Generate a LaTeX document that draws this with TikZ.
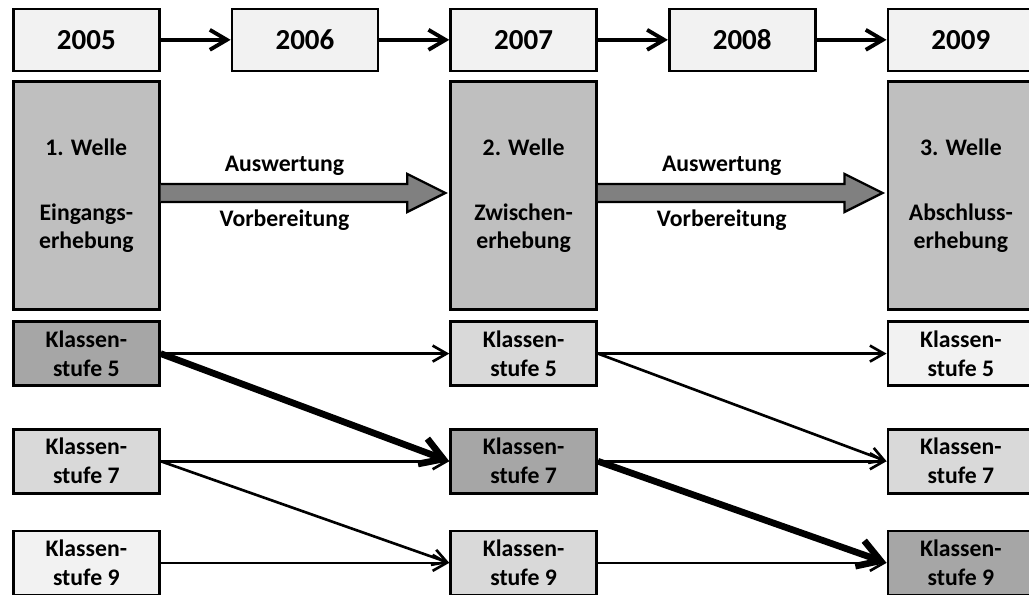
\documentclass[tikz,border=0pt]{standalone}
\usepackage{fontspec}
\setmainfont{Carlito}
\usepackage{tikz}
\usepackage{xcolor}
\usetikzlibrary{arrows.meta, positioning, calc}

\definecolor{hell}{HTML}{F2F2F2}
\definecolor{mittel}{HTML}{D9D9D9}
\definecolor{dunkel}{HTML}{A6A6A6}
\definecolor{wellegrau}{HTML}{BFBFBF}
\definecolor{pfeilgrau}{HTML}{808080}

\begin{document}
\begin{tikzpicture}[
    box/.style={rectangle, draw, line width=1.5pt, align=center, inner sep=0pt},
    year/.style={box, fill=hell, minimum width=2.92cm, minimum height=1.24cm, font=\fontsize{16.5}{19}\selectfont\bfseries},
    welle/.style={box, fill=wellegrau, minimum width=2.92cm, minimum height=4.56cm, font=\fontsize{13.5}{16}\selectfont\bfseries},
    stufe/.style={box, minimum width=2.92cm, minimum height=1.28cm, font=\fontsize{13.5}{16.5}\selectfont\bfseries},
    lbl/.style={font=\fontsize{13.5}{16}\selectfont\bfseries},
    jahr/.style={-{Straight Barb[length=3.4mm, width=4mm]}, line width=2.2pt},
    pfeil/.style={-{Straight Barb[length=2.8mm, width=3.2mm]}, line width=1.5pt},
    dick/.style={-{Straight Barb[length=4.4mm, width=5.4mm]}, line width=3.8pt},
    gross/.style={draw, line width=1.3pt, fill=pfeilgrau, line join=miter}
]
\useasboundingbox (0,0) rectangle (20.58,-11.88);
\clip (0,0) rectangle (20.58,-11.88);

\node[year, anchor=north west] (y2005) at (0.24,-0.15) {2005};
\node[year, right=1.4cm of y2005] (y2006) {2006};
\node[year, right=1.4cm of y2006] (y2007) {2007};
\node[year, right=1.4cm of y2007] (y2008) {2008};
\node[year, right=1.4cm of y2008] (y2009) {2009};

\node[welle, below=0.16cm of y2005] (w1) {1. Welle\\[21pt]Eingangs-\\erhebung};
\node[welle, below=0.16cm of y2007] (w2) {2. Welle\\[21pt]Zwischen-\\erhebung};
\node[welle, below=0.16cm of y2009] (w3) {3. Welle\\[21pt]Abschluss-\\erhebung};

\node[stufe, fill=dunkel, below=0.19cm of w1] (k15) {Klassen-\\stufe 5};
\node[stufe, fill=mittel, below=0.82cm of k15] (k17) {Klassen-\\stufe 7};
\node[stufe, fill=hell, below=0.7cm of k17] (k19) {Klassen-\\stufe 9};

\node[stufe, fill=mittel, below=0.19cm of w2] (k25) {Klassen-\\stufe 5};
\node[stufe, fill=dunkel, below=0.82cm of k25] (k27) {Klassen-\\stufe 7};
\node[stufe, fill=mittel, below=0.7cm of k27] (k29) {Klassen-\\stufe 9};

\node[stufe, fill=hell, below=0.19cm of w3] (k35) {Klassen-\\stufe 5};
\node[stufe, fill=mittel, below=0.82cm of k35] (k37) {Klassen-\\stufe 7};
\node[stufe, fill=dunkel, below=0.7cm of k37] (k39) {Klassen-\\stufe 9};

\draw[jahr] (y2005) -- (y2006);
\draw[jahr] (y2006) -- (y2007);
\draw[jahr] (y2007) -- (y2008);
\draw[jahr] (y2008) -- (y2009);

\draw[gross] ($(w1.east)+(0,0.23)$) -- ($(w2.west)+(-0.84,0.23)$) -- ($(w2.west)+(-0.84,0.43)$)
    -- ($(w2.west)+(-0.08,0.05)$) -- ($(w2.west)+(-0.84,-0.33)$) -- ($(w2.west)+(-0.84,-0.13)$)
    -- ($(w1.east)+(0,-0.13)$);
\draw[gross] ($(w2.east)+(0,0.23)$) -- ($(w3.west)+(-0.84,0.23)$) -- ($(w3.west)+(-0.84,0.43)$)
    -- ($(w3.west)+(-0.08,0.05)$) -- ($(w3.west)+(-0.84,-0.33)$) -- ($(w3.west)+(-0.84,-0.13)$)
    -- ($(w2.east)+(0,-0.13)$);

\node[lbl] (a1) at ($(w1.east)!0.5!(w2.west)+(-0.41,0.6)$) {Auswertung};
\node[lbl] (v1) at ($(w1.east)!0.5!(w2.west)+(-0.41,-0.5)$) {Vorbereitung};
\node[lbl] (a2) at ($(w2.east)!0.5!(w3.west)+(-0.41,0.6)$) {Auswertung};
\node[lbl] (v2) at ($(w2.east)!0.5!(w3.west)+(-0.41,-0.5)$) {Vorbereitung};

\draw[pfeil] (k15.east) -- (k25.west);
\draw[dick] (k15.east) -- (k27.west);
\draw[pfeil] (k17.east) -- (k27.west);
\draw[pfeil] (k17.east) -- (k29.west);
\draw[pfeil] (k19.east) -- (k29.west);

\draw[pfeil] (k25.east) -- (k35.west);
\draw[pfeil] (k25.east) -- (k37.west);
\draw[pfeil] (k27.east) -- (k37.west);
\draw[dick] (k27.east) -- (k39.west);
\draw[pfeil] (k29.east) -- (k39.west);

\end{tikzpicture}
\end{document}
